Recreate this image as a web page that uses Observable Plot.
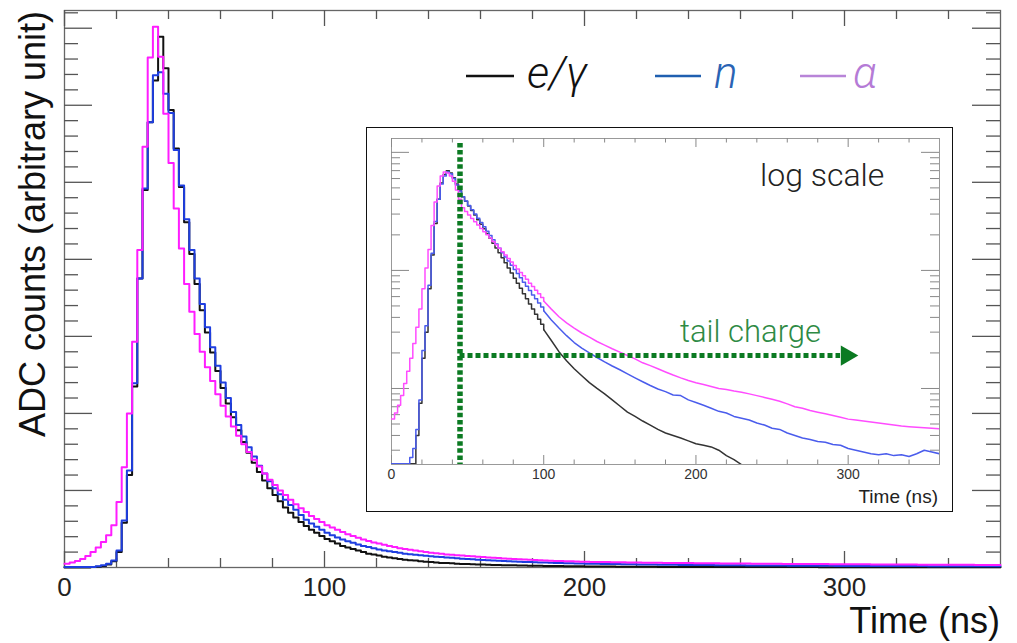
<!DOCTYPE html>
<html><head><meta charset="utf-8">
<script src="https://cdn.jsdelivr.net/npm/d3@7"></script>
<script src="https://cdn.jsdelivr.net/npm/@observablehq/plot@0.6"></script>
<style>
body{margin:0;background:#fff;}
#wrap{position:relative;width:1017px;height:643px;overflow:hidden;background:#fff;}
#wrap > *{position:absolute;}
</style></head><body><div id="wrap"></div>
<script>
// ---------- data: main histogram (2 ns bins from 0 to 360 ns) ----------
const binWidth = 2;
const egMain = [
0,0,0,0,0,0.005,0.01,0.02,0.04,0.08,
0.2,0.58,1.2,2.35,3.75,4.9,5.78,6.32,6.89,6.48,
5.94,5.44,4.94,4.48,4.07,3.68,3.34,3.05,2.79,2.55,
2.33,2.13,1.95,1.78,1.63,1.49,1.36,1.24,1.13,1.03,
0.94,0.86,0.78,0.71,0.65,0.59,0.54,0.49,0.45,0.41,
0.37,0.34,0.31,0.28,0.26,0.24,0.22,0.2,0.18,0.17,
0.155,0.14,0.13,0.12,0.11,0.1,0.095,0.09,0.08,0.075,
0.07,0.065,0.06,0.057,0.054,0.05,0.047,0.044,0.042,0.04,
0.038,0.036,0.034,0.032,0.03,0.029,0.028,0.026,0.025,0.024,
0.023,0.022,0.021,0.02,0.019,0.018,0.017,0.016,0.015,0.015,
0.014,0.014,0.013,0.013,0.012,0.012,0.011,0.011,0.01,0.01,
0.01,0.009,0.009,0.009,0.008,0.008,0.008,0.007,0.007,0.007,
0.007,0.006,0.006,0.006,0.006,0.006,0.006,0.006,0.006,0.006,
0.006,0.006,0.005,0.005,0.005,0.005,0.005,0.005,0.005,0.005,
0.005,0.005,0.005,0.005,0.005,0.004,0.004,0.004,0.004,0.004,
0.004,0.004,0.004,0.004,0.004,0.004,0.004,0.004,0.004,0.004,
0.004,0.004,0.004,0.003,0.003,0.003,0.003,0.003,0.003,0.003,
0.003,0.003,0.003,0.003,0.003,0.003,0.003,0.003,0.003,0.003];
const nMain = [
0.005,0.005,0.005,0.005,0.005,0.008,0.015,0.03,0.05,0.09,
0.22,0.61,1.26,2.39,3.75,4.92,5.78,6.39,6.43,6.15,
5.9,5.42,4.96,4.52,4.12,3.75,3.42,3.12,2.86,2.62,
2.4,2.2,2.02,1.85,1.7,1.56,1.44,1.32,1.22,1.12,
1.03,0.95,0.88,0.81,0.75,0.68,0.62,0.57,0.53,0.49,
0.45,0.42,0.39,0.365,0.34,0.32,0.3,0.28,0.265,0.25,
0.235,0.22,0.21,0.2,0.19,0.18,0.172,0.165,0.158,0.151,
0.145,0.14,0.135,0.13,0.125,0.12,0.115,0.11,0.106,0.102,
0.098,0.094,0.09,0.087,0.084,0.081,0.078,0.075,0.073,0.07,
0.068,0.066,0.064,0.062,0.06,0.058,0.056,0.054,0.053,0.051,
0.05,0.049,0.048,0.047,0.046,0.045,0.044,0.043,0.042,0.041,
0.04,0.039,0.038,0.038,0.037,0.036,0.035,0.035,0.034,0.033,
0.033,0.032,0.032,0.031,0.031,0.03,0.03,0.029,0.029,0.028,
0.028,0.027,0.027,0.027,0.026,0.026,0.025,0.025,0.025,0.024,
0.024,0.024,0.023,0.023,0.023,0.022,0.022,0.022,0.021,0.021,
0.021,0.021,0.02,0.02,0.02,0.02,0.019,0.019,0.019,0.019,
0.018,0.018,0.018,0.018,0.018,0.018,0.017,0.017,0.017,0.017,
0.017,0.017,0.016,0.016,0.016,0.016,0.016,0.016,0.016,0.016];
const alphaMain = [
0.05,0.065,0.085,0.11,0.15,0.2,0.26,0.33,0.42,0.55,
0.85,1.3,2.0,2.93,4.12,5.46,6.62,7.02,6.63,5.89,
5.25,4.66,4.14,3.68,3.32,3.03,2.8,2.6,2.42,2.25,
2.1,1.96,1.83,1.71,1.6,1.5,1.4,1.31,1.22,1.14,
1.07,1.0,0.94,0.88,0.82,0.77,0.72,0.67,0.63,0.59,
0.55,0.52,0.49,0.46,0.43,0.41,0.385,0.365,0.345,0.325,
0.31,0.295,0.28,0.265,0.25,0.24,0.23,0.22,0.21,0.2,
0.19,0.185,0.18,0.17,0.165,0.16,0.155,0.15,0.145,0.14,
0.135,0.13,0.126,0.122,0.118,0.114,0.11,0.107,0.104,0.1,
0.097,0.094,0.091,0.089,0.086,0.084,0.082,0.08,0.078,0.076,
0.074,0.073,0.072,0.071,0.07,0.069,0.068,0.067,0.066,0.065,
0.064,0.063,0.062,0.062,0.061,0.06,0.06,0.059,0.058,0.058,
0.057,0.056,0.056,0.055,0.055,0.054,0.053,0.053,0.052,0.052,
0.051,0.051,0.05,0.05,0.049,0.049,0.048,0.048,0.047,0.047,
0.046,0.046,0.045,0.045,0.045,0.044,0.044,0.043,0.043,0.043,
0.042,0.042,0.041,0.041,0.041,0.04,0.04,0.04,0.039,0.039,
0.039,0.038,0.038,0.038,0.037,0.037,0.037,0.036,0.036,0.036,
0.036,0.035,0.035,0.035,0.035,0.034,0.034,0.034,0.034,0.033];

// ---------- data: inset (log scale), sample times in ns ----------
const insetTime = [
0,2,4,6,8,10,12,14,16,18,20,22,24,26,28,30,32,34,36,38,40,42,44,46,48,50,
52,54,56,58,60,62,64,66,68,70,72,74,76,78,80,82,84,86,88,90,92,94,96,98,100,
105,110,115,120,125,130,135,140,145,150,155,160,165,170,175,180,185,190,195,200,
205,210,215,220,225,230,235,240,245,250,255,260,265,270,275,280,285,290,295,300,
305,310,315,320,325,330,335,340,345,350,355,360];
const egInset = [
0.23,0.23,0.23,0.23,0.23,0.23,0.23,0.23,0.4,0.75,1.8,3.0,7,13.5,25,40,55,65,70,67,61,54,47.5,42,38.5,35.2,
32.2,29.4,26.9,24.6,22.5,20.5,18.7,17.0,15.5,14.1,12.8,11.6,10.5,9.5,8.6,7.8,7.05,6.35,5.75,5.2,4.7,4.25,3.85,3.5,3.15,
2.55,2.05,1.72,1.47,1.28,1.12,1.0,0.9,0.8,0.71,0.63,0.58,0.53,0.49,0.45,0.42,0.4,0.38,0.36,0.34,
0.33,0.32,0.3,0.27,0.25,0.226,0.2,0.18,0.16,0.15,0.14,0.13,0.12,0.11,0.1,0.1,0.09,0.09,0.08,0.08,
0.07,0.07,0.07,0.06,0.06,0.06,0.05,0.05,0.05,0.05,0.04,0.04];
const nInset = [
0.23,0.23,0.23,0.23,0.23,0.23,0.26,0.31,0.45,0.8,2.1,3.4,7.5,14,26,40,54,63,68,66,60,53,47,42,38.7,35.5,
32.6,30.0,27.6,25.4,23.4,21.5,19.8,18.2,16.7,15.4,14.1,13.0,12.0,11.05,10.2,9.4,8.65,7.95,7.35,6.75,6.2,5.75,5.3,4.9,4.55,
3.8,3.25,2.8,2.45,2.2,2.0,1.83,1.68,1.55,1.44,1.33,1.23,1.14,1.06,0.99,0.94,0.88,0.87,0.8,0.76,
0.72,0.68,0.64,0.62,0.58,0.56,0.54,0.51,0.49,0.46,0.45,0.42,0.4,0.38,0.37,0.355,0.35,0.335,0.33,0.31,
0.3,0.29,0.28,0.275,0.28,0.27,0.275,0.265,0.28,0.3,0.29,0.28];
const alphaInset = [
0.55,0.62,0.72,0.87,1.1,1.4,1.8,2.4,3.3,4.7,7.0,10.5,15,24,38,52,63,68,67,63,57,48,40,34,31.5,29.5,
27.5,25.8,24.2,22.7,21.3,20.0,18.8,17.6,16.5,15.4,14.4,13.5,12.6,11.8,11.0,10.3,9.6,9.0,8.4,7.8,7.3,6.8,6.35,5.9,5.5,
4.7,4.05,3.6,3.25,2.95,2.72,2.5,2.33,2.17,2.03,1.9,1.78,1.65,1.56,1.47,1.38,1.3,1.23,1.17,1.12,
1.08,1.04,1.0,0.98,0.95,0.93,0.9,0.87,0.84,0.81,0.78,0.74,0.7,0.68,0.65,0.63,0.61,0.59,0.57,0.55,
0.54,0.53,0.52,0.51,0.5,0.49,0.48,0.475,0.47,0.465,0.46,0.455];

const xTicks = [0, 100, 200, 300];
const xMinorTicks = [20,40,60,80,120,140,160,180,220,240,260,280,320,340];
const yMainMajor = [1,2,3,4,5,6,7];
const yMainMinor = d3.range(1, 37).map(i => i / 5).filter(v => !Number.isInteger(v));
const yLogMajor = [1, 10, 100];
const yLogMinor = [0.3,0.4,0.5,0.6,0.7,0.8,0.9,2,3,4,5,6,7,8,9,20,30,40,50,60,70,80,90];
const tailStart = 45;          // ns, start of tail window
const tailArrow = [{x1: 45, x2: 295, y: 1.9}];
const tailHead = [{t: 299, v: 1.9}];
const fineBinEnd = 100;        // inset: 2 ns bins up to here, smooth tail after

const series = ["e/γ", "n", "α"];
const mainColors = ["#111111", "#1e3ee0", "#ff1cff"];
const insetColors = ["#333333", "#4a5cec", "#ff4cff"];

function histRows(vals, name) {
  const rows = vals.map((v, i) => ({t: i * binWidth, v, s: name}));
  rows.push({t: vals.length * binWidth, v: vals[vals.length - 1], s: name});
  return rows;
}
function insetRows(vals, name) {
  return insetTime.map((t, i) => ({t, v: vals[i], s: name}));
}

const FONT = "'Liberation Sans', Arial, Helvetica, sans-serif";
const wrap = document.getElementById("wrap");

// ---------- main chart ----------
const W = 1017, H = 643, mL = 64, mR = 17, mT = 10, mB = 76;
const pw = W - mL - mR, ph = H - mT - mB;
const tickCol = "#555";
const main = Plot.plot({
  width: W, height: H, marginLeft: mL, marginRight: mR, marginTop: mT, marginBottom: mB,
  x: {domain: [0, 360], label: null},
  y: {domain: [0, 7.23], axis: null},
  style: {fontFamily: FONT, fontSize: "26px", color: "#222", background: "transparent"},
  marks: [
    Plot.frame({stroke: "#666", strokeWidth: 1.3}),
    Plot.ruleX(xTicks, {x: d => d, insetTop: ph - 16, stroke: tickCol, strokeWidth: 1.3}),
    Plot.ruleX(xMinorTicks, {x: d => d, insetTop: ph - 9, stroke: tickCol, strokeWidth: 1.3}),
    Plot.ruleX(xTicks, {x: d => d, insetBottom: ph - 16, stroke: tickCol, strokeWidth: 1.3}),
    Plot.ruleX(xMinorTicks, {x: d => d, insetBottom: ph - 9, stroke: tickCol, strokeWidth: 1.3}),
    Plot.ruleY(yMainMajor, {y: d => d, insetRight: pw - 28, stroke: tickCol, strokeWidth: 1.3}),
    Plot.ruleY(yMainMinor, {y: d => d, insetRight: pw - 14, stroke: tickCol, strokeWidth: 1.3}),
    Plot.ruleY(yMainMajor, {y: d => d, insetLeft: pw - 28, stroke: tickCol, strokeWidth: 1.3}),
    Plot.ruleY(yMainMinor, {y: d => d, insetLeft: pw - 14, stroke: tickCol, strokeWidth: 1.3}),
    Plot.line(histRows(egMain, series[0]), {x: "t", y: "v", curve: "step-after", stroke: mainColors[0], strokeWidth: 2}),
    Plot.line(histRows(nMain, series[1]), {x: "t", y: "v", curve: "step-after", stroke: mainColors[1], strokeWidth: 2}),
    Plot.line(histRows(alphaMain, series[2]), {x: "t", y: "v", curve: "step-after", stroke: mainColors[2], strokeWidth: 2}),
    Plot.axisX(xTicks, {anchor: "bottom", tickSize: 0, tickPadding: 10, label: null, fontSize: 26})
  ]
});
main.style.left = "0px"; main.style.top = "0px";
wrap.appendChild(main);

// ---------- inset ----------
const IX = 366, IY = 127, IW = 587, IH = 385;
const box = document.createElement("div");
Object.assign(box.style, {left: IX + "px", top: IY + "px", width: IW + "px", height: IH + "px",
  border: "1.6px solid #111", boxSizing: "border-box", background: "#fff"});
wrap.appendChild(box);

const iL = 25, iR = 14, iT = 11, iB = 48;
const ipw = IW - iL - iR, iph = IH - iT - iB;
const green = "#0b7a22";
const iTick = "#888";
function insetSeries(vals, name, color) {
  const rows = insetRows(vals, name);
  return [
    Plot.line(rows.filter(d => d.t <= fineBinEnd), {x: "t", y: "v", curve: "step-after", stroke: color, strokeWidth: 1.5, clip: true}),
    Plot.line(rows.filter(d => d.t >= fineBinEnd), {x: "t", y: "v", curve: "linear", stroke: color, strokeWidth: 1.5, clip: true})
  ];
}
const inset = Plot.plot({
  width: IW, height: IH, marginLeft: iL, marginRight: iR, marginTop: iT, marginBottom: iB,
  x: {domain: [0, 360], label: null},
  y: {type: "log", domain: [0.227, 131], axis: null},
  style: {fontFamily: FONT, fontSize: "14px", color: "#333", background: "transparent"},
  marks: [
    Plot.frame({stroke: "#999", strokeWidth: 1}),
    Plot.ruleX(xTicks, {x: d => d, insetTop: iph - 9, stroke: iTick}),
    Plot.ruleX(xMinorTicks, {x: d => d, insetTop: iph - 4.5, stroke: iTick}),
    Plot.ruleX(xTicks, {x: d => d, insetBottom: iph - 9, stroke: iTick}),
    Plot.ruleX(xMinorTicks, {x: d => d, insetBottom: iph - 4.5, stroke: iTick}),
    Plot.ruleY(yLogMajor, {y: d => d, insetRight: ipw - 18, stroke: iTick}),
    Plot.ruleY(yLogMinor, {y: d => d, insetRight: ipw - 9, stroke: iTick}),
    Plot.ruleY(yLogMajor, {y: d => d, insetLeft: ipw - 18, stroke: iTick}),
    Plot.ruleY(yLogMinor, {y: d => d, insetLeft: ipw - 9, stroke: iTick}),
    ...insetSeries(egInset, series[0], insetColors[0]),
    ...insetSeries(nInset, series[1], insetColors[1]),
    ...insetSeries(alphaInset, series[2], insetColors[2]),
    Plot.ruleX([tailStart], {x: d => d, insetTop: 5, stroke: green, strokeWidth: 5.5, strokeDasharray: "4.5,2.6"}),
    Plot.ruleY(tailArrow, {x1: "x1", x2: "x2", y: "y", stroke: green, strokeWidth: 5, strokeDasharray: "5,3"}),
    Plot.dot(tailHead, {x: "t", y: "v", symbol: "triangle", r: 7.5, rotate: 90, fill: green, stroke: null}),
    Plot.axisX(xTicks, {anchor: "bottom", tickSize: 0, tickPadding: 5, label: null, fontSize: 14})
  ]
});
inset.style.left = IX + "px"; inset.style.top = IY + "px";
wrap.appendChild(inset);

// ---------- overlay text: titles, legend, annotations ----------
const ov = d3.select(wrap).append("svg").attr("width", W).attr("height", H)
  .style("left", "0px").style("top", "0px").style("pointer-events", "none");
function txt(s, x, y, o = {}) {
  const t = ov.append("text").attr("x", x).attr("y", y).text(s)
    .attr("font-family", o.family || FONT).attr("font-size", o.size || 16)
    .attr("fill", o.fill || "#111").attr("text-anchor", o.anchor || "start");
  if (o.italic) t.attr("font-style", "italic");
  if (o.weight) t.attr("font-weight", o.weight);
  if (o.rotate) t.attr("transform", `rotate(${o.rotate},${x},${y})`);
  return t;
}
txt("ADC counts (arbitrary unit)", 45, 224, {size: 36, anchor: "middle", rotate: -90, fill: "#111"});
txt("Time (ns)", 1000, 633, {size: 36, anchor: "end", fill: "#111"});

const LFONT = "Roboto, 'Liberation Sans', Arial, sans-serif";
const legendItems = [
  {label: series[0], x0: 466, x1: 514, tx: 527, line: "#111", fill: "#111"},
  {label: series[1], x0: 655, x1: 701, tx: 714, line: "#1f5fb0", fill: "#2a63b4"},
  {label: series[2], x0: 800, x1: 846, tx: 853, line: "#b884d8", fill: "#b57bd6"}
];
for (const it of legendItems) {
  ov.append("line").attr("x1", it.x0).attr("x2", it.x1).attr("y1", 76).attr("y2", 76)
    .attr("stroke", it.line).attr("stroke-width", 2.6);
  txt(it.label, it.tx, 88, {size: 44, italic: true, fill: it.fill, family: LFONT, weight: 300});
}
txt("log scale", 760, 186, {size: 32, fill: "#222", family: LFONT, weight: 300});
txt("tail charge", 680, 342, {size: 31, fill: "#2e8a44", family: LFONT, weight: 300});
txt("Time (ns)", 938, 503, {size: 19, anchor: "end", fill: "#222"});
</script>
</body></html>
